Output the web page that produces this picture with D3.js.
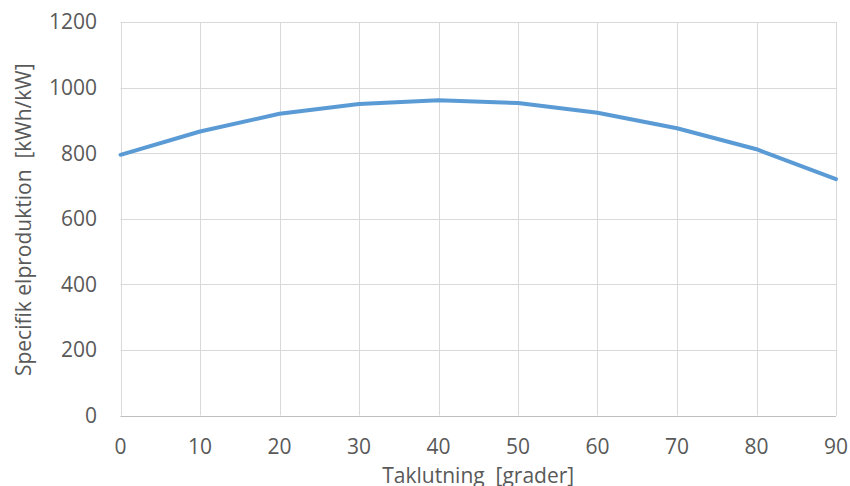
<!DOCTYPE html>
<html>
<head>
<meta charset="utf-8">
<script src="https://cdn.jsdelivr.net/npm/d3@7"></script>
<style>
  html, body { margin: 0; padding: 0; background: #fff; }
  svg { display: block; }
  text { font-family: "Open Sans", "Liberation Sans", sans-serif; fill: #595959; }
</style>
</head>
<body>
<svg id="chart" width="850" height="486"></svg>
<script>
const tilt = [0, 10, 20, 30, 40, 50, 60, 70, 80, 90];
const production = [795, 866, 920, 950, 961, 953, 923, 876, 812, 721];
const yTicks = [0, 200, 400, 600, 800, 1000, 1200];
const xTicks = [0, 10, 20, 30, 40, 50, 60, 70, 80, 90];
const xTitle = "Taklutning  [grader]";
const yTitle = "Specifik elproduktion  [kWh/kW]";

const svg = d3.select("#chart");
const plotLeft = 120.5, plotRight = 836, plotTop = 22, plotBottom = 415.5;
const x = d3.scaleLinear().domain([0, 90]).range([plotLeft, plotRight]);
const y = d3.scaleLinear().domain([0, 1200]).range([plotBottom, plotTop]);

// gridlines
svg.append("g").selectAll("line").data(yTicks.filter(d => d > 0)).join("line")
  .attr("x1", plotLeft).attr("x2", plotRight)
  .attr("y1", d => Math.round(y(d)) + 0.5).attr("y2", d => Math.round(y(d)) + 0.5)
  .attr("stroke", "#D9D9D9").attr("stroke-width", 1);
svg.append("g").selectAll("line").data(xTicks).join("line")
  .attr("x1", d => Math.round(x(d)) + 0.5).attr("x2", d => Math.round(x(d)) + 0.5)
  .attr("y1", plotTop).attr("y2", plotBottom)
  .attr("stroke", "#D9D9D9").attr("stroke-width", 1);

// x axis line
svg.append("line")
  .attr("x1", plotLeft).attr("x2", plotRight)
  .attr("y1", Math.round(y(0)) + 0.5).attr("y2", Math.round(y(0)) + 0.5)
  .attr("stroke", "#BFBFBF").attr("stroke-width", 1);

// y tick labels
svg.append("g").selectAll("text").data(yTicks).join("text")
  .attr("x", 97).attr("y", d => y(d))
  .attr("dy", "0.35em")
  .attr("text-anchor", "end")
  .style("font-size", "21px")
  .text(d => d);

// x tick labels
svg.append("g").selectAll("text").data(xTicks).join("text")
  .attr("x", d => x(d)).attr("y", 447)
  .attr("dy", "0.35em")
  .attr("text-anchor", "middle")
  .style("font-size", "21px")
  .text(d => d);

// titles
svg.append("text")
  .attr("x", (plotLeft + plotRight) / 2).attr("y", 483)
  .attr("text-anchor", "middle")
  .style("font-size", "21px")
  .style("white-space", "pre")
  .text(xTitle);
svg.append("text")
  .attr("transform", `translate(31,${(plotTop + plotBottom) / 2 + 1}) rotate(-90)`)
  .attr("text-anchor", "middle")
  .style("font-size", "21px")
  .style("white-space", "pre")
  .text(yTitle);

// line
const line = d3.line().x((d, i) => x(tilt[i])).y(d => y(d));
svg.append("path")
  .datum(production)
  .attr("d", line)
  .attr("fill", "none")
  .attr("stroke", "#5B9BD5")
  .attr("stroke-width", 4)
  .attr("stroke-linejoin", "round")
  .attr("stroke-linecap", "round");
</script>
</body>
</html>
